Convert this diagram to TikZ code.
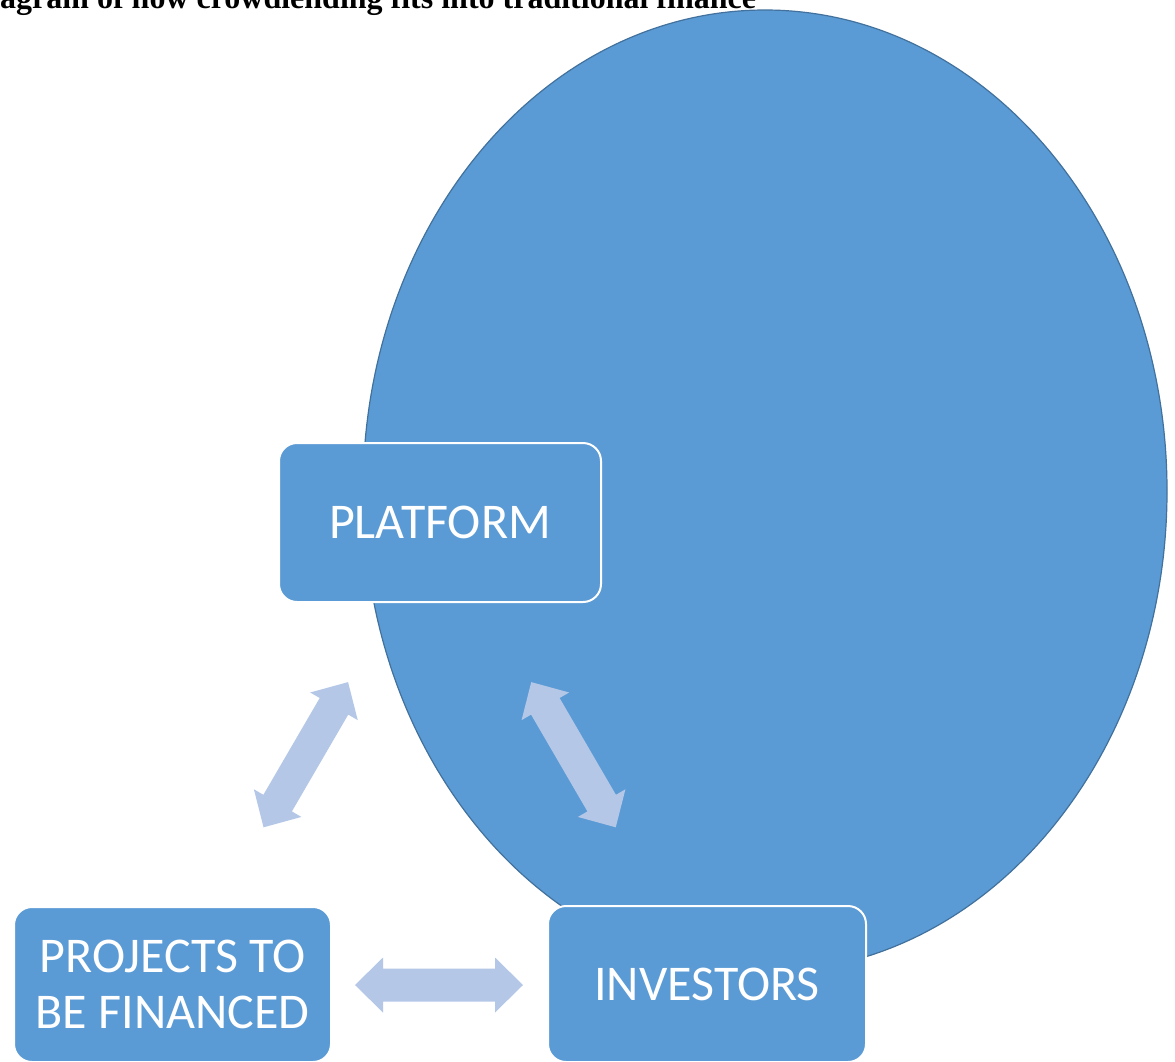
\documentclass[tikz,border=0pt]{standalone}
\usepackage{fontspec}
\setmainfont{Liberation Serif}
\newfontfamily\carl{Carlito}
\usetikzlibrary{shapes.geometric}
\definecolor{boxblue}{HTML}{5B9BD5}
\definecolor{edgeblue}{HTML}{41719C}
\definecolor{arrowblue}{HTML}{B4C7E7}
\begin{document}
\begin{tikzpicture}[x=1pt,y=-1pt,
  box/.style={draw=white, line width=2pt, fill=boxblue, rounded corners=18pt,
    inner sep=0pt, text=white, font=\carl\fontsize{50}{56}\selectfont, align=center},
  dbl/.pic={\fill[arrowblue] (-84,0) -- (-56,27.5) -- (-56,16.5) -- (56,16.5) -- (56,27.5)
     -- (84,0) -- (56,-27.5) -- (56,-16.5) -- (-56,-16.5) -- (-56,-27.5) -- cycle;}]
\useasboundingbox (0,0) rectangle (1175,1061);
\fill[white] (0,0) rectangle (1175,1061);
\node[ellipse, draw=edgeblue, line width=1.2pt, fill=boxblue, minimum width=804pt,
  minimum height=962pt, inner sep=0pt] (circ) at (765,491) {};
\node[anchor=base west, inner sep=0pt, font=\bfseries\fontsize{32}{36}\selectfont] (title)
  at (0,8) {agram of how crowdlending fits into traditional finance};
\node[box, minimum width=322pt, minimum height=159pt] (plat) at (440,522.5) {PLATFORM};
\node[box, minimum width=317pt, minimum height=155pt] (proj) at (172.5,984.5) {PROJECTS TO\\BE FINANCED};
\node[box, minimum width=318pt, minimum height=156pt] (inv) at (707,984) {INVESTORS};
\coordinate (aL) at (305.8,754.7);
\coordinate (aR) at (573.5,754.7);
\coordinate (aB) at (439,985);
\pic[rotate=59.8] at (aL) {dbl};
\pic[rotate=-59.8] at (aR) {dbl};
\pic at (aB) {dbl};
\end{tikzpicture}
\end{document}
